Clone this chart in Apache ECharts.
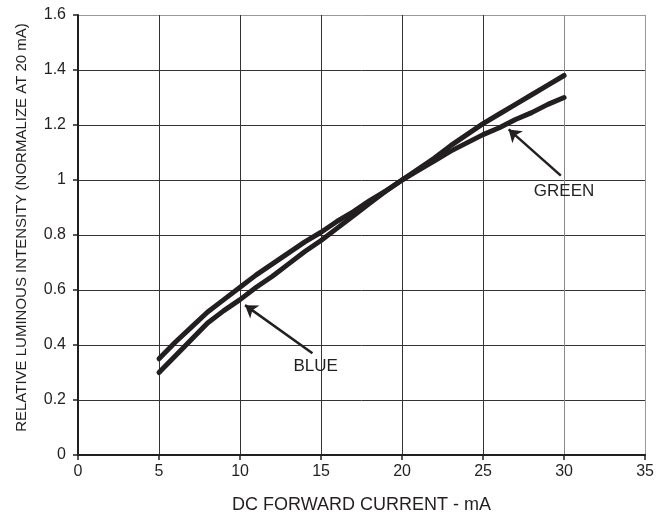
<!DOCTYPE html>
<html>
<head>
<meta charset="utf-8">
<script src="https://cdn.jsdelivr.net/npm/echarts@6/dist/echarts.min.js"></script>
<style>html,body{margin:0;padding:0;background:#fff}#c{width:657px;height:521px}</style>
</head>
<body>
<div id="c"></div>
<script>
var currents = [5, 6, 7, 8, 9, 10, 11, 12, 13, 14, 15, 16, 17, 18, 19, 20, 21, 22, 23, 24, 25, 26, 27, 28, 29, 30];
var blueValues = [0.30, 0.36, 0.42, 0.48, 0.525, 0.565, 0.61, 0.65, 0.695, 0.74, 0.78, 0.825, 0.87, 0.915, 0.96, 1.0, 1.04, 1.08, 1.125, 1.165, 1.205, 1.24, 1.275, 1.31, 1.345, 1.38];
var greenValues = [0.35, 0.41, 0.465, 0.52, 0.565, 0.61, 0.655, 0.695, 0.735, 0.775, 0.81, 0.85, 0.885, 0.925, 0.96, 1.0, 1.035, 1.07, 1.105, 1.135, 1.165, 1.19, 1.22, 1.245, 1.275, 1.30];
var xTicks = [0, 5, 10, 15, 20, 25, 30, 35];
var yTicks = [0, 0.2, 0.4, 0.6, 0.8, 1, 1.2, 1.4, 1.6];
var blueArrow = [[14.47, 0.37], [10.31, 0.545]];
var greenArrow = [[29.8, 1.016], [26.58, 1.184]];
var blueLabel = [14.67, 0.322];
var greenLabel = [30.0, 0.959];

var FONT = "'Liberation Sans', Arial, sans-serif";
var INK = '#231f20';

function pairs(xs, ys) { return xs.map(function (x, i) { return [x, ys[i]]; }); }

function arrowMark(arrow) {
  return {
    silent: true, symbol: ['none', 'arrow'], symbolSize: 12,
    lineStyle: {color: INK, width: 2.5, type: 'solid'},
    itemStyle: {color: INK},
    label: {show: false},
    data: [[{coord: arrow[0], symbol: 'none'}, {coord: arrow[1], symbol: 'arrow', symbolSize: 12}]]
  };
}
function labelMark(pos, text) {
  return {
    silent: true, symbol: 'circle', symbolSize: 1, itemStyle: {color: 'rgba(0,0,0,0)'},
    label: {show: true, position: 'inside', color: INK, fontFamily: FONT, fontSize: 17, formatter: text},
    data: [{coord: pos, value: text}]
  };
}

var chart = echarts.init(document.getElementById('c'), null, {renderer: 'canvas'});
chart.setOption({
  animation: false,
  backgroundColor: '#fff',
  grid: {left: 78, right: 10, top: 15, bottom: 66, containLabel: false},
  xAxis: {
    type: 'value', min: xTicks[0], max: xTicks[xTicks.length - 1], interval: 5,
    name: 'DC FORWARD CURRENT - mA', nameLocation: 'middle', nameGap: 41,
    nameTextStyle: {fontFamily: FONT, fontSize: 18, color: INK},
    axisLine: {show: true, onZero: false, lineStyle: {color: INK, width: 2}},
    axisTick: {show: true, length: 5, lineStyle: {color: INK, width: 1.5}},
    axisLabel: {fontFamily: FONT, fontSize: 16, color: INK, margin: 9},
    splitLine: {show: true, lineStyle: {color: ['#333', '#333', '#333', '#333', '#333', '#333', '#888', '#999'], width: 1}}
  },
  yAxis: {
    type: 'value', min: yTicks[0], max: yTicks[yTicks.length - 1], interval: 0.2,
    name: 'RELATIVE LUMINOUS INTENSITY (NORMALIZE AT 20 mA)', nameLocation: 'middle', nameGap: 49,
    nameTextStyle: {fontFamily: FONT, fontSize: 15, color: INK, padding: [0, 0, 0, 15]},
    axisLine: {show: true, onZero: false, lineStyle: {color: INK, width: 2}},
    axisTick: {show: true, length: 5, lineStyle: {color: INK, width: 1.5}},
    axisLabel: {fontFamily: FONT, fontSize: 16, color: INK, margin: 12},
    splitLine: {show: true, lineStyle: {color: ['#333', '#333', '#333', '#333', '#333', '#333', '#333', '#333', '#999'], width: 1}}
  },
  series: [
    {
      name: 'BLUE', type: 'line', data: pairs(currents, blueValues), showSymbol: false, symbol: 'none',
      lineStyle: {color: INK, width: 5, cap: 'round', join: 'round'},
      markLine: arrowMark(blueArrow),
      markPoint: labelMark(blueLabel, 'BLUE')
    },
    {
      name: 'GREEN', type: 'line', data: pairs(currents, greenValues), showSymbol: false, symbol: 'none',
      lineStyle: {color: INK, width: 5, cap: 'round', join: 'round'},
      markLine: arrowMark(greenArrow),
      markPoint: labelMark(greenLabel, 'GREEN')
    }
  ]
});
</script>
</body>
</html>
